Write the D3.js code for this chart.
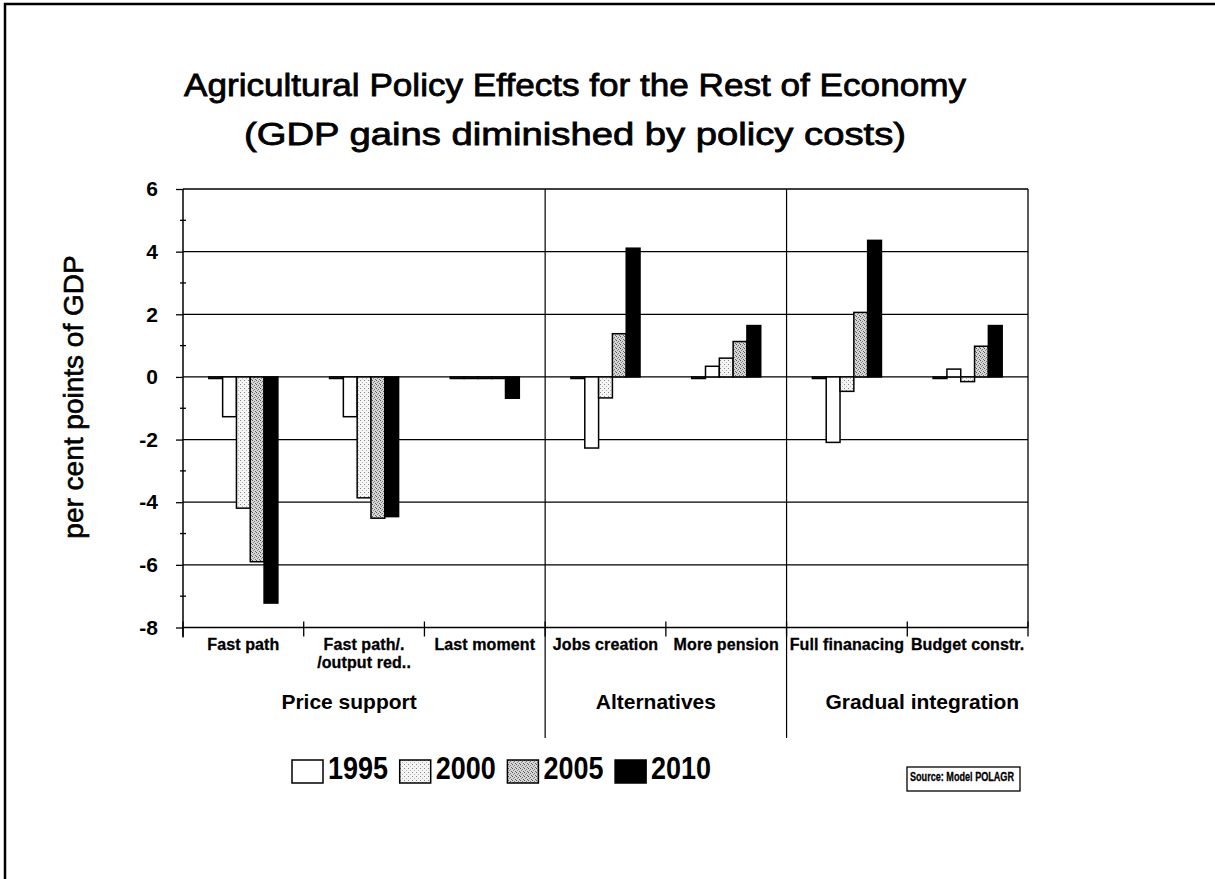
<!DOCTYPE html>
<html>
<head>
<meta charset="utf-8">
<script src="https://cdn.jsdelivr.net/npm/d3@7"></script>
<style>
  html, body { margin: 0; padding: 0; background: #fff; }
  svg { display: block; }
  text { font-family: "Liberation Sans", Arial, sans-serif; fill: #000; }
</style>
</head>
<body>
<svg id="chart" width="1215" height="879"></svg>
<script>
// Scenario categories and their grouping
const categories = ["Fast path", "Fast path/./output red..", "Last moment",
                    "Jobs creation", "More pension", "Full finanacing", "Budget constr."];
const categoryLines = [["Fast path"], ["Fast path/.", "/output red.."], ["Last moment"],
                       ["Jobs creation"], ["More pension"], ["Full finanacing"], ["Budget constr."]];
const groups = ["Price support", "Alternatives", "Gradual integration"];
const groupOf = [0, 0, 0, 1, 1, 2, 2];

// Series (per cent points of GDP); the base year sits at zero
const seriesNames = ["1990", "1995", "2000", "2005", "2010"];
const legendNames = ["1995", "2000", "2005", "2010"];
const v1990 = [-0.05, -0.05, -0.05, -0.05, -0.05, -0.05, -0.05];
const v1995 = [-1.27, -1.27, -0.05, -2.27, 0.34, -2.09, 0.25];
const v2000 = [-4.19, -3.86, -0.05, -0.67, 0.60, -0.46, -0.15];
const v2005 = [-5.90, -4.51, -0.05, 1.38, 1.13, 2.06, 0.98];
const v2010 = [-7.22, -4.46, -0.68, 4.11, 1.64, 4.36, 1.64];
const seriesValues = [v1990, v1995, v2000, v2005, v2010];

const yTicks = [-8, -6, -4, -2, 0, 2, 4, 6];
const yMinorTicks = [-7, -5, -3, -1, 1, 3, 5];

(function draw() {
const svg = d3.select("#chart");

// Stipple fills
const defs = svg.append("defs");
const p2000 = defs.append("pattern").attr("id", "fill2000")
  .attr("width", 4).attr("height", 4).attr("patternUnits", "userSpaceOnUse");
p2000.append("rect").attr("width", 4).attr("height", 4).attr("fill", "#f4f4f4");
p2000.append("rect").attr("x", 0).attr("y", 0).attr("width", 1).attr("height", 1).attr("fill", "#8a8a8a");
p2000.append("rect").attr("x", 2).attr("y", 2).attr("width", 1).attr("height", 1).attr("fill", "#b5b5b5");

const p2005 = defs.append("pattern").attr("id", "fill2005")
  .attr("width", 4).attr("height", 4).attr("patternUnits", "userSpaceOnUse");
p2005.append("rect").attr("width", 4).attr("height", 4).attr("fill", "#d6d6d6");
p2005.append("rect").attr("x", 0).attr("y", 0).attr("width", 1).attr("height", 1).attr("fill", "#555");
p2005.append("rect").attr("x", 2).attr("y", 1).attr("width", 1).attr("height", 1).attr("fill", "#777");
p2005.append("rect").attr("x", 1).attr("y", 2).attr("width", 1).attr("height", 1).attr("fill", "#888");
p2005.append("rect").attr("x", 3).attr("y", 3).attr("width", 1).attr("height", 1).attr("fill", "#666");

const fills = { "1990": "#ffffff", "1995": "#ffffff", "2000": "url(#fill2000)",
                "2005": "url(#fill2005)", "2010": "#000000" };

// Outer frame
svg.append("path").attr("d", "M5,879 V4 H1215")
  .attr("fill", "none").attr("stroke", "#000").attr("stroke-width", 2.5);

// Title
const title = svg.append("g");
title.append("text").attr("x", 575).attr("y", 96).attr("text-anchor", "middle")
  .attr("font-size", 32).attr("stroke", "#000").attr("stroke-width", 0.8)
  .attr("textLength", 782).attr("lengthAdjust", "spacingAndGlyphs")
  .text("Agricultural Policy Effects for the Rest of Economy");
title.append("text").attr("x", 575).attr("y", 145).attr("text-anchor", "middle")
  .attr("font-size", 32).attr("stroke", "#000").attr("stroke-width", 0.8)
  .attr("textLength", 662).attr("lengthAdjust", "spacingAndGlyphs")
  .text("(GDP gains diminished by policy costs)");

// Scales
const plotL = 183, plotR = 1028, plotT = 189, plotB = 627.5;
const x0 = d3.scaleBand().domain(categories).range([plotL, plotR]).padding(0);
const x1 = d3.scaleBand().domain(seriesNames).range([0, x0.bandwidth()])
  .paddingInner(0).paddingOuter(1.87);
const y = d3.scaleLinear().domain([-8, 6]).range([plotB, plotT]);

// Horizontal gridlines
svg.append("g").selectAll("line").data(yTicks.filter(d => d > -8)).join("line")
  .attr("x1", plotL).attr("x2", plotR)
  .attr("y1", d => y(d)).attr("y2", d => y(d))
  .attr("stroke", "#000").attr("stroke-width", 1.3);

// Right border
svg.append("line").attr("x1", plotR).attr("x2", plotR).attr("y1", plotT).attr("y2", plotB)
  .attr("stroke", "#000").attr("stroke-width", 1.3);

// Group separators
const sepX = [x0(categories[3]), x0(categories[5])];
svg.append("g").selectAll("line").data(sepX).join("line")
  .attr("x1", d => d).attr("x2", d => d).attr("y1", plotT).attr("y2", 738)
  .attr("stroke", "#000").attr("stroke-width", 1.2);

// Bars
const barG = svg.append("g");
seriesNames.forEach((s, si) => {
  barG.append("g").selectAll("rect").data(seriesValues[si]).join("rect")
    .attr("x", (d, i) => x0(categories[i]) + x1(s))
    .attr("width", x1.bandwidth())
    .attr("y", d => y(Math.max(0, d)))
    .attr("height", d => Math.abs(y(d) - y(0)))
    .attr("fill", fills[s])
    .attr("stroke", "#000").attr("stroke-width", 1.5);
});

// Y axis
const yAxisG = svg.append("g").attr("transform", `translate(${plotL},0)`)
  .call(d3.axisLeft(y).tickValues(yTicks).tickSize(7).tickPadding(18).tickFormat(d => String(d)));
yAxisG.select(".domain").attr("stroke-width", 1.5).attr("d", `M0,${plotT}V${plotB + 10}`);
yAxisG.selectAll(".tick line").attr("stroke-width", 1.3);
yAxisG.selectAll(".tick text").attr("font-size", 21).attr("font-weight", "bold")
  .attr("font-family", "Liberation Sans, Arial, sans-serif").attr("fill", "#000");
svg.append("g").selectAll("line").data(yMinorTicks).join("line")
  .attr("x1", plotL - 3).attr("x2", plotL + 3)
  .attr("y1", d => y(d)).attr("y2", d => y(d))
  .attr("stroke", "#000").attr("stroke-width", 1.3);

// X axis line and category boundary ticks
svg.append("line").attr("x1", plotL).attr("x2", plotR).attr("y1", plotB).attr("y2", plotB)
  .attr("stroke", "#000").attr("stroke-width", 1.5);
const bounds = categories.map(c => x0(c)).concat([plotR]);
svg.append("g").selectAll("line").data(bounds).join("line")
  .attr("x1", d => d).attr("x2", d => d).attr("y1", plotB - 6).attr("y2", plotB + 9)
  .attr("stroke", "#000").attr("stroke-width", 1.3);

// Category labels
const catG = svg.append("g");
categoryLines.forEach((lines, i) => {
  const cx = x0(categories[i]) + x0.bandwidth() / 2;
  const t = catG.append("text").attr("x", cx)
    .attr("y", 650).attr("text-anchor", "middle")
    .attr("font-size", 16).attr("font-weight", "bold").attr("letter-spacing", 0.1)
    .attr("stroke", "#000").attr("stroke-width", 0.3);
  lines.forEach((ln, k) => {
    t.append("tspan").attr("x", cx).attr("dy", k === 0 ? 0 : 18).text(ln);
  });
});

// Group labels, nudged the way the spanning labels sit under their ranges
const groupShift = [-15, -10, 15];
groups.forEach((g, gi) => {
  const idx = d3.range(categories.length).filter(i => groupOf[i] === gi);
  const gx0 = x0(categories[idx[0]]);
  const gx1 = x0(categories[idx[idx.length - 1]]) + x0.bandwidth();
  svg.append("text").attr("x", (gx0 + gx1) / 2 + groupShift[gi]).attr("y", 709)
    .attr("text-anchor", "middle").attr("font-size", 21).attr("font-weight", "bold")
    .text(g);
});

// Y axis title
svg.append("text")
  .attr("transform", "translate(83,397) rotate(-90)")
  .attr("text-anchor", "middle").attr("font-size", 28)
  .attr("stroke", "#000").attr("stroke-width", 0.6)
  .text("per cent points of GDP");

// Legend
const legend = svg.append("g");
const legendStep = 107.7;
legendNames.forEach((n, i) => {
  const lx = 292 + i * legendStep;
  legend.append("rect").attr("x", lx).attr("y", 760).attr("width", 31).attr("height", 23)
    .attr("fill", fills[n]).attr("stroke", "#000").attr("stroke-width", 1.5);
  legend.append("text").attr("x", lx + 36).attr("y", 779)
    .attr("font-size", 32).attr("font-weight", "bold")
    .attr("textLength", 60).attr("lengthAdjust", "spacingAndGlyphs")
    .text(n);
});

// Source note
svg.append("rect").attr("x", 907).attr("y", 767).attr("width", 113).attr("height", 24)
  .attr("fill", "none").attr("stroke", "#000").attr("stroke-width", 1.3);
svg.append("text").attr("x", 910).attr("y", 781)
  .attr("font-size", 12).attr("font-weight", "bold")
  .attr("stroke", "#000").attr("stroke-width", 0.3)
  .attr("textLength", 104).attr("lengthAdjust", "spacingAndGlyphs")
  .text("Source: Model POLAGR");
})();
</script>
</body>
</html>
